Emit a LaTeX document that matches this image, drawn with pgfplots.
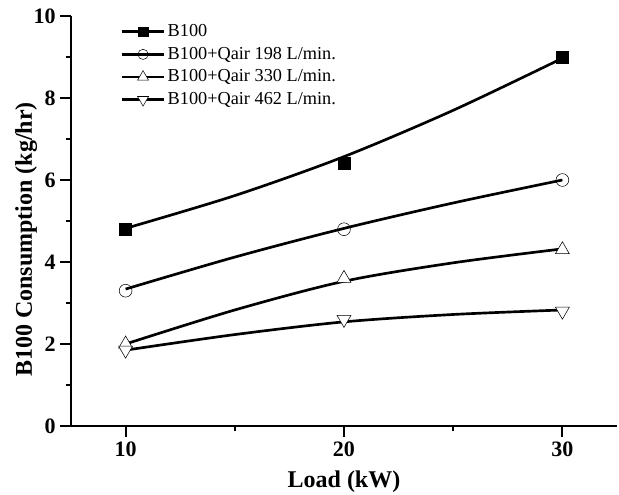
\documentclass[border=0pt]{standalone}
\usepackage{fontspec}
\setmainfont{Liberation Serif}
\usepackage{pgfplots}
\pgfplotsset{compat=1.18}

\pgfplotstableread{
x   y
10  4.82
15  5.62
20  6.57
25  7.70
30  8.97
}\fitA
\pgfplotstableread{
x   y
10  3.34
15  4.12
20  4.82
25  5.44
30  6.00
}\fitB
\pgfplotstableread{
x   y
10  2.00
15  2.83
20  3.53
25  3.98
30  4.32
}\fitC
\pgfplotstableread{
x   y
10  1.85
15  2.23
20  2.54
25  2.72
30  2.83
}\fitD

\pgfplotsset{
  fitline/.style={black, line width=2pt, smooth, no marks, forget plot},
  pts/.style={only marks, black, mark options={line width=0.8pt}}
}

\begin{document}
\begin{tikzpicture}
\useasboundingbox (-53.25pt,-51pt) rectangle (411pt,319.5pt);
\begin{axis}[
  scale only axis,
  width=409.5pt, height=307.5pt,
  xmin=7.5, xmax=32.5, ymin=0, ymax=10,
  axis x line*=bottom, axis y line*=left,
  x axis line style={-}, y axis line style={-},
  axis line style={line width=1.6pt},
  xtick={10,20,30}, ytick={0,2,4,6,8,10},
  minor x tick num=1, minor y tick num=1,
  tick align=outside,
  major tick length=8pt, minor tick length=4pt,
  every tick/.style={black, line width=1.5pt},
  /pgf/number format/assume math mode=true,
  tick label style={font=\fontsize{16.5}{18}\selectfont\bfseries},
  xlabel={Load (kW)},
  ylabel={B100 Consumption (kg/hr)},
  every axis x label/.style={at={(axis description cs:0.5,-0.151)}, anchor=base,
    font=\fontsize{18}{20}\selectfont\bfseries},
  every axis y label/.style={at={(axis description cs:-0.082,0.455)}, rotate=90, anchor=center,
    font=\fontsize{18}{20}\selectfont\bfseries},
  legend style={at={(rel axis cs:0.09,0.99)}, anchor=north west, draw=none, fill=none,
    inner xsep=0pt, inner ysep=0pt, row sep=0pt,
    font=\fontsize{13.7}{16}\selectfont,
    nodes={text height=10.5pt, text depth=3.5pt, inner sep=1.5pt}},
  legend cell align=left,
  legend image code/.code={
    \draw[black, line width=2pt] (0pt,0pt) -- (32pt,0pt);
    \draw[mark repeat=2, mark phase=2, #1, every mark/.append style={scale=0.8}]
      plot coordinates {(0pt,0pt) (16pt,0pt) (32pt,0pt)};
  },
]
\addplot[fitline] table {\fitA};
\addplot[fitline] table {\fitB};
\addplot[fitline] table {\fitC};
\addplot[fitline] table {\fitD};

\addplot[pts, mark=square*, mark size=4.5pt, mark options={fill=black}] coordinates {(10,4.8) (20,6.4) (30,9.0)};
\addlegendentry{B100}
\addplot[pts, mark=o, mark size=4.8pt, mark options={fill=white}] coordinates {(10,3.3) (20,4.8) (30,6.0)};
\addlegendentry{B100+Qair 198 L/min.}
\addplot[pts, mark=triangle*, mark size=6pt, mark options={fill=white}] coordinates {(10,2.0) (20,3.6) (30,4.3)};
\addlegendentry{B100+Qair 330 L/min.}
\addplot[pts, mark=triangle*, mark size=6pt, mark options={fill=white, rotate=180}] coordinates {(10,1.85) (20,2.6) (30,2.8)};
\addlegendentry{B100+Qair 462 L/min.}
\end{axis}
\end{tikzpicture}
\end{document}
